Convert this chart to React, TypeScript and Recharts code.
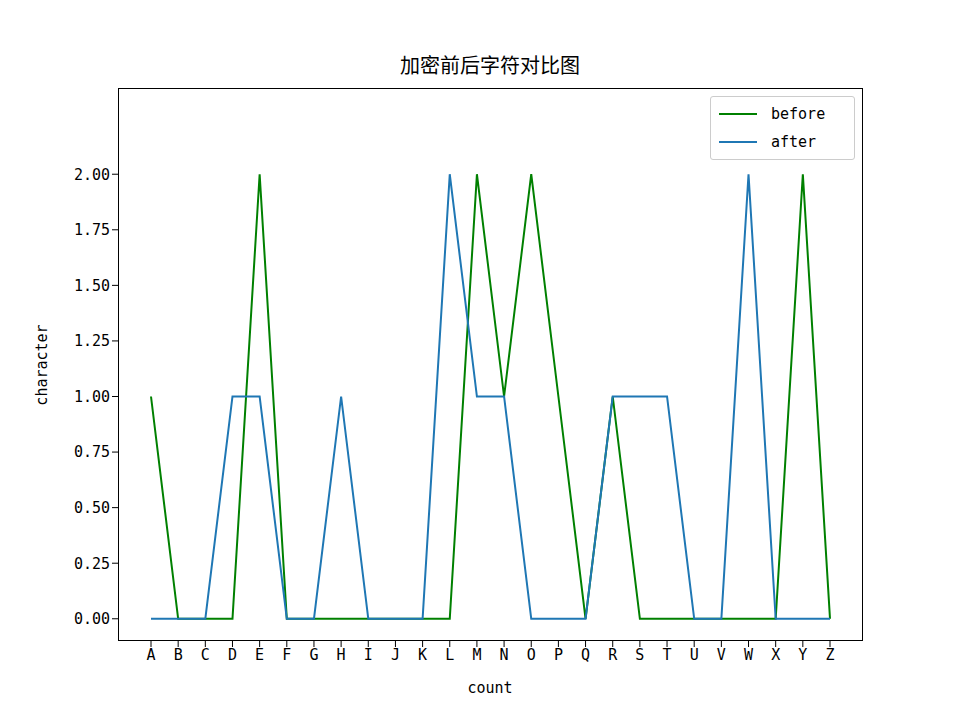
import React from 'react';
import { LineChart, Line, XAxis, YAxis, Legend } from 'recharts';

const letters = 'ABCDEFGHIJKLMNOPQRSTUVWXYZ'.split('');
const before = [1, 0, 0, 0, 2, 0, 0, 0, 0, 0, 0, 0, 2, 1, 2, 1, 0, 1, 0, 0, 0, 0, 0, 0, 2, 0];
const after = [0, 0, 0, 1, 1, 0, 0, 1, 0, 0, 0, 2, 1, 1, 0, 0, 0, 1, 1, 1, 0, 0, 2, 0, 0, 0];
const yTicks = [0, 0.25, 0.5, 0.75, 1, 1.25, 1.5, 1.75, 2];

const data = letters.map((c, i) => ({ c, before: before[i], after: after[i] }));
const font = '"Noto Sans CJK SC", "DejaVu Sans", sans-serif';
const mono = '"DejaVu Sans Mono", monospace';

const LegendBox = () => (
  <div style={{ background: 'rgba(255,255,255,0.8)', border: '1px solid #ccc', borderRadius: 3, padding: '3px 8px', fontFamily: mono, fontSize: 15 }}>
    {[['before', 'green'], ['after', '#1f77b4']].map(([n, col]) => (
      <div key={n} style={{ display: 'flex', alignItems: 'center', height: 28 }}>
        <div style={{ width: 38, height: 2, background: col, marginRight: 14 }} />
        <span>{n}</span>
      </div>
    ))}
  </div>
);

export default function App() {
  return (
    <div style={{ position: 'absolute', left: 0, top: 0, width: 954, height: 720, background: '#fff', fontFamily: font }}>
      <div style={{ position: 'absolute', left: 0, width: 980, top: 50, textAlign: 'center', fontSize: 20 }}>加密前后字符对比图</div>
      <LineChart width={954} height={720} data={data} margin={{ top: 88, right: 91, bottom: 49, left: 58 }}>
        <XAxis dataKey="c" padding={{ left: 33, right: 33 }} height={30} axisLine={false}
          tick={{ fill: '#000', fontSize: 15, fontFamily: mono }} tickLine={{ stroke: '#000' }} tickSize={6} interval={0} />
        <YAxis type="number" domain={[-0.1, 2.1]} allowDataOverflow ticks={yTicks} width={60} axisLine={false}
          tickFormatter={(v: number) => v.toFixed(2)} tick={{ fill: '#000', fontSize: 15, fontFamily: mono }}
          tickLine={{ stroke: '#000' }} tickSize={6} />
        <Legend verticalAlign="top" align="right" content={LegendBox}
          wrapperStyle={{ position: 'absolute', top: 96, left: 710, width: 145 }} />
        <Line dataKey="before" stroke="green" strokeWidth={2} dot={false} isAnimationActive={false} />
        <Line dataKey="after" stroke="#1f77b4" strokeWidth={2} dot={false} isAnimationActive={false} />
      </LineChart>
      <div style={{ position: 'absolute', left: 118, top: 88, width: 745, height: 553, border: '1px solid #000', boxSizing: 'border-box', pointerEvents: 'none' }} />
      <div style={{ position: 'absolute', left: 0, width: 980, top: 679, textAlign: 'center', fontSize: 15, fontFamily: mono }}>count</div>
      <div style={{ position: 'absolute', left: 42, top: 365, transform: 'translate(-50%,-50%) rotate(-90deg)', fontSize: 15, fontFamily: mono }}>character</div>
    </div>
  );
}
